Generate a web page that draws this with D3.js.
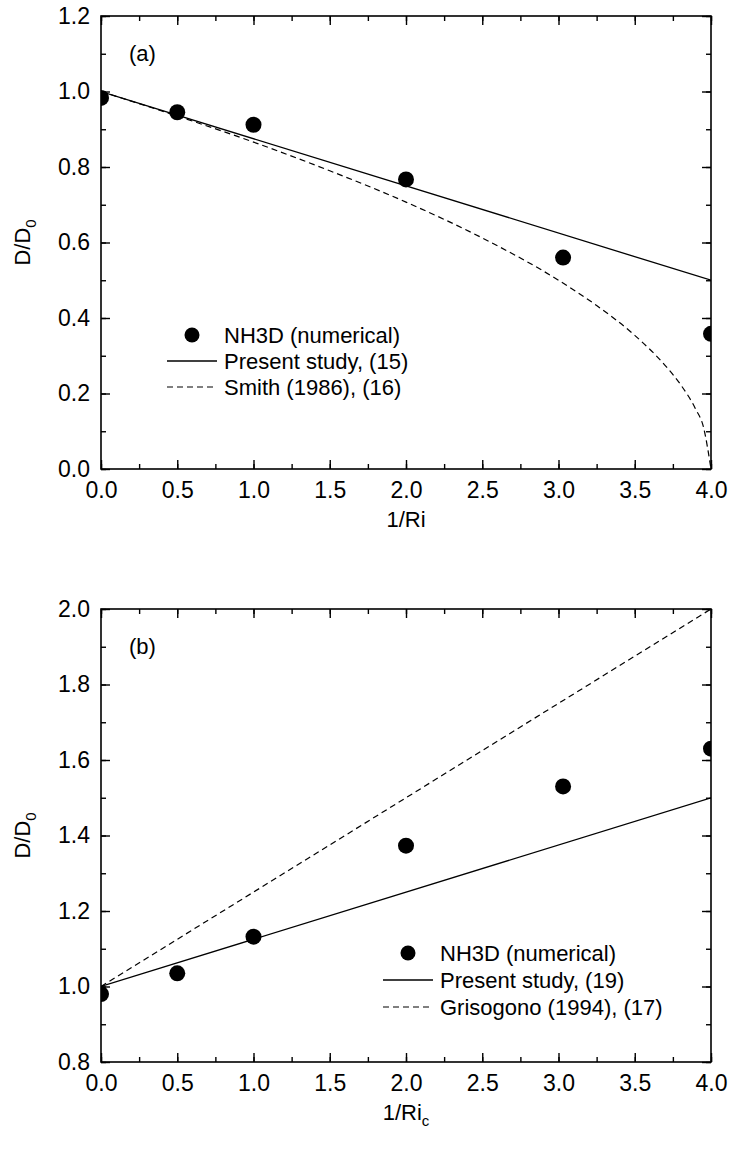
<!DOCTYPE html>
<html>
<head>
<meta charset="utf-8">
<script src="https://cdn.jsdelivr.net/npm/d3@7"></script>
<style>
  body { margin: 0; background: #fff; }
  svg { display: block; font-family: "Liberation Sans", Arial, sans-serif; }
  .axis path { display: none; }
  .axis line { stroke: #000; stroke-width: 1.4; }
</style>
</head>
<body>
<div id="chart"></div>
<script>
// panel (a)
const xDataA = [0, 0.5, 1.0, 2.0, 3.03, 4.0];
const nh3dA = [0.983, 0.945, 0.912, 0.767, 0.56, 0.358];
const presentXA = [0, 4];
const presentA = [1.0, 0.5];
const smithX = [0, 0.5, 1.0, 1.5, 2.0, 2.5, 3.0, 3.25, 3.5, 3.7, 3.8, 3.9, 3.95, 4.0];
const smithA = [1.0, 0.935, 0.866, 0.79, 0.707, 0.612, 0.5, 0.433, 0.354, 0.274, 0.224, 0.158, 0.112, 0.0];

// panel (b)
const xDataB = [0, 0.5, 1.0, 2.0, 3.03, 4.0];
const nh3dB = [0.98, 1.035, 1.132, 1.373, 1.53, 1.63];
const presentXB = [0, 4];
const presentB = [1.0, 1.5];
const grisoX = [0, 4];
const grisoB = [1.0, 2.0];

const xTicks = [0, 0.5, 1.0, 1.5, 2.0, 2.5, 3.0, 3.5, 4.0];
const yTicksA = [0, 0.2, 0.4, 0.6, 0.8, 1.0, 1.2];
const yTicksB = [0.8, 1.0, 1.2, 1.4, 1.6, 1.8, 2.0];

const W = 729, H = 1151;
const svg = d3.select('#chart').append('svg')
  .attr('width', W)
  .attr('height', H);

function styleAxis(sel) {
  sel.selectAll('text')
    .style('font-size', '23px')
    .style('font-family', '"Liberation Sans", Arial, sans-serif')
    .attr('fill', '#000');
}

function panel(opt) {
  const left = 101, right = 711;
  const x = d3.scaleLinear().domain([0, 4]).range([left, right]);
  const y = d3.scaleLinear().domain(opt.yDomain).range([opt.bottom, opt.top]);
  const g = svg.append('g');

  const clipId = 'clip' + opt.name;
  g.append('clipPath').attr('id', clipId)
    .append('rect')
    .attr('x', left).attr('y', opt.top)
    .attr('width', right - left).attr('height', opt.bottom - opt.top);

  const minorX = d3.range(0, 4.001, 0.25);
  const minorY = d3.range(opt.yDomain[0], opt.yDomain[1] + 0.001, 0.1);

  // minor ticks
  g.append('g').attr('class', 'axis').attr('transform', `translate(0,${opt.bottom})`)
    .call(d3.axisBottom(x).tickValues(minorX).tickSize(-5).tickFormat(''));
  g.append('g').attr('class', 'axis').attr('transform', `translate(0,${opt.top})`)
    .call(d3.axisTop(x).tickValues(minorX).tickSize(-5).tickFormat(''));
  g.append('g').attr('class', 'axis').attr('transform', `translate(${left},0)`)
    .call(d3.axisLeft(y).tickValues(minorY).tickSize(-5).tickFormat(''));
  g.append('g').attr('class', 'axis').attr('transform', `translate(${right},0)`)
    .call(d3.axisRight(y).tickValues(minorY).tickSize(-5).tickFormat(''));

  // major ticks
  g.append('g').attr('class', 'axis').attr('transform', `translate(0,${opt.bottom})`)
    .call(d3.axisBottom(x).tickValues(xTicks).tickSize(-9).tickPadding(13).tickFormat(d3.format('.1f')))
    .call(styleAxis);
  g.append('g').attr('class', 'axis').attr('transform', `translate(0,${opt.top})`)
    .call(d3.axisTop(x).tickValues(xTicks).tickSize(-9).tickFormat(''));
  g.append('g').attr('class', 'axis').attr('transform', `translate(${left},0)`)
    .call(d3.axisLeft(y).tickValues(opt.yTicks).tickSize(-9).tickPadding(11).tickFormat(d3.format('.1f')))
    .call(styleAxis);
  g.append('g').attr('class', 'axis').attr('transform', `translate(${right},0)`)
    .call(d3.axisRight(y).tickValues(opt.yTicks).tickSize(-9).tickFormat(''));

  g.append('rect')
    .attr('x', left).attr('y', opt.top)
    .attr('width', right - left).attr('height', opt.bottom - opt.top)
    .attr('fill', 'none').attr('stroke', '#000').attr('stroke-width', 1.6);

  const plot = g.append('g').attr('clip-path', `url(#${clipId})`);
  const line = d3.line().x(d => x(d[0])).y(d => y(d[1]));

  plot.append('path')
    .datum(d3.zip(opt.solidX, opt.solidY))
    .attr('d', line)
    .attr('fill', 'none').attr('stroke', '#000').attr('stroke-width', 1.3);

  plot.append('path')
    .datum(d3.zip(opt.dashX, opt.dashY))
    .attr('d', line.curve(d3.curveMonotoneX))
    .attr('fill', 'none').attr('stroke', '#000').attr('stroke-width', 1.2)
    .attr('stroke-dasharray', '6,4');

  plot.selectAll('circle')
    .data(d3.zip(opt.ptX, opt.ptY))
    .enter().append('circle')
    .attr('cx', d => x(d[0]))
    .attr('cy', d => y(d[1]))
    .attr('r', 8)
    .attr('fill', '#000');

  // panel label
  g.append('text')
    .attr('x', 129).attr('y', opt.top + 45)
    .style('font-size', '22px')
    .text(opt.label);

  // legend
  const lg = g.append('g').attr('transform', `translate(${opt.legend[0]},${opt.legend[1]})`);
  const rows = opt.legendText;
  lg.append('circle').attr('cx', 25).attr('cy', 0).attr('r', 7.5).attr('fill', '#000');
  lg.append('line').attr('x1', 0).attr('x2', 50).attr('y1', opt.rowH).attr('y2', opt.rowH)
    .attr('stroke', '#000').attr('stroke-width', 1.3);
  lg.append('line').attr('x1', 0).attr('x2', 50).attr('y1', 2 * opt.rowH).attr('y2', 2 * opt.rowH)
    .attr('stroke', '#000').attr('stroke-width', 1.2).attr('stroke-dasharray', '6,4');
  lg.selectAll('text.lt')
    .data(rows)
    .enter().append('text')
    .attr('class', 'lt')
    .attr('x', 57)
    .attr('y', (d, i) => i * opt.rowH + 8)
    .style('font-size', '22px')
    .text(d => d);

  // axis titles
  const xt = g.append('text')
    .attr('x', (left + right) / 2)
    .attr('y', opt.bottom + 58)
    .attr('text-anchor', 'middle')
    .style('font-size', '22px')
    .text(opt.xTitle);
  if (opt.xSub) {
    xt.append('tspan').attr('dy', 6).style('font-size', '15px').text(opt.xSub);
  }

  const yt = g.append('text')
    .attr('transform', `translate(30,${(opt.top + opt.bottom) / 2}) rotate(-90)`)
    .attr('text-anchor', 'middle')
    .style('font-size', '22px')
    .text('D/D');
  yt.append('tspan').attr('dy', 6).style('font-size', '15px').text('0');
}

panel({
  name: 'a', top: 16, bottom: 469, yDomain: [0, 1.2], yTicks: yTicksA,
  ptX: xDataA, ptY: nh3dA,
  solidX: presentXA, solidY: presentA,
  dashX: smithX, dashY: smithA,
  label: '(a)',
  legend: [167, 335], rowH: 26,
  legendText: ['NH3D (numerical)', 'Present study, (15)', 'Smith (1986), (16)'],
  xTitle: '1/Ri'
});

panel({
  name: 'b', top: 609, bottom: 1062, yDomain: [0.8, 2.0], yTicks: yTicksB,
  ptX: xDataB, ptY: nh3dB,
  solidX: presentXB, solidY: presentB,
  dashX: grisoX, dashY: grisoB,
  label: '(b)',
  legend: [383, 953], rowH: 27,
  legendText: ['NH3D (numerical)', 'Present study, (19)', 'Grisogono (1994), (17)'],
  xTitle: '1/Ri', xSub: 'c'
});
</script>
</body>
</html>
